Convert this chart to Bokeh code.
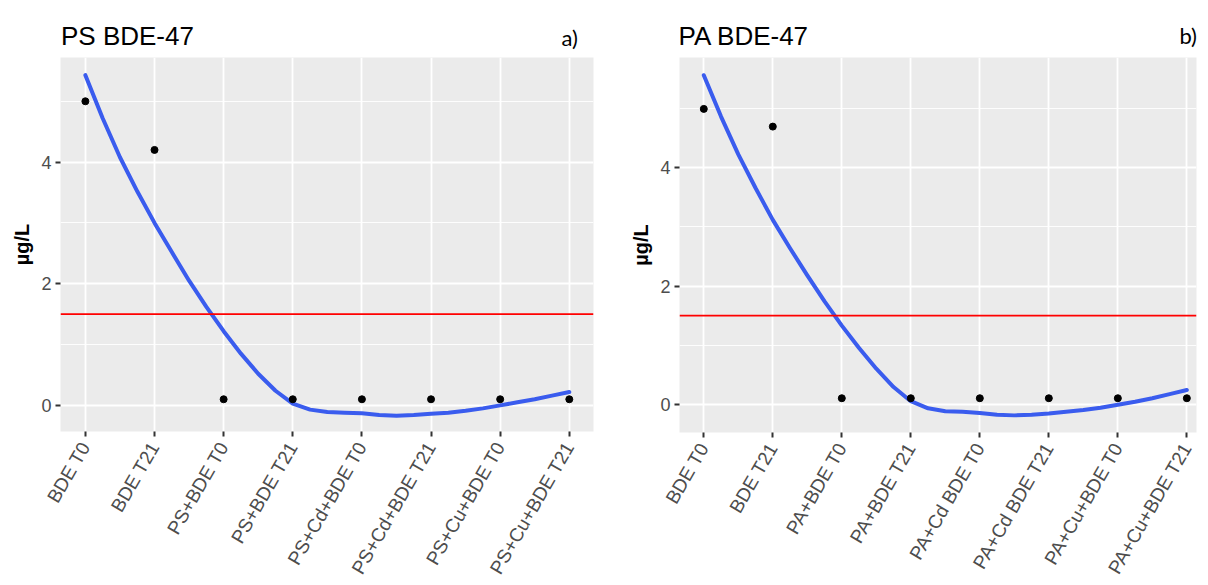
import math
from bokeh.plotting import figure
from bokeh.models import FixedTicker, Span, ColumnDataSource, Div
from bokeh.layouts import row, column
from bokeh.embed import file_html
from bokeh.resources import INLINE

# ---------------- data ----------------
ps_categories = ["BDE T0", "BDE T21", "PS+BDE T0", "PS+BDE T21",
                 "PS+Cd+BDE T0", "PS+Cd+BDE T21", "PS+Cu+BDE T0", "PS+Cu+BDE T21"]
ps_values = [5.0, 4.2, 0.1, 0.1, 0.1, 0.1, 0.1, 0.1]

pa_categories = ["BDE T0", "BDE T21", "PA+BDE T0", "PA+BDE T21",
                 "PA+Cd BDE T0", "PA+Cd BDE T21", "PA+Cu+BDE T0", "PA+Cu+BDE T21"]
pa_values = [5.0, 4.7, 0.1, 0.1, 0.1, 0.1, 0.1, 0.1]

# smooth (loess) curves, at category positions
smooth_x = [1.0, 1.25, 1.5, 1.75, 2.0, 2.25, 2.5, 2.75, 3.0, 3.25, 3.5, 3.75,
            4.0, 4.25, 4.5, 4.75, 5.0, 5.25, 5.5, 5.75, 6.0, 6.25, 6.5, 6.75,
            7.0, 7.25, 7.5, 7.75, 8.0]
ps_smooth = [5.43, 4.72, 4.08, 3.52, 3.0, 2.52, 2.05, 1.62, 1.22, 0.85, 0.52, 0.24,
             0.03, -0.07, -0.11, -0.12, -0.13, -0.16, -0.17, -0.16, -0.14, -0.12, -0.09, -0.05,
             0.0, 0.05, 0.1, 0.16, 0.22]
pa_smooth = [5.57, 4.87, 4.23, 3.66, 3.12, 2.64, 2.18, 1.74, 1.33, 0.95, 0.6, 0.29,
             0.05, -0.07, -0.12, -0.13, -0.15, -0.18, -0.19, -0.18, -0.16, -0.13, -0.1, -0.06,
             -0.01, 0.04, 0.1, 0.17, 0.24]

threshold = 1.5
y_ticks = [0, 2, 4]
y_minor = [1, 3, 5]

FONT = "Liberation Sans"
W = 604
HEADER_H = 57


def make_header(title, tag, title_left, tag_right, tag_top):
    html = (
        f'<div style="position:relative;width:{W}px;height:{HEADER_H}px;'
        f'margin:0;padding:0;overflow:hidden;">'
        f'<span style="position:absolute;left:{title_left}px;top:23px;'
        f"font-family:'{FONT}';font-size:26px;line-height:1;color:#000;"
        f'white-space:nowrap;">{title}</span>'
        f'<span style="position:absolute;right:{tag_right}px;top:{tag_top}px;'
        f"font-family:'Lato';font-size:22px;line-height:1;color:#000;"
        f'white-space:nowrap;">{tag}</span>'
        f'</div>'
    )
    return Div(text=html, width=W, height=HEADER_H, margin=0)


def make_panel(cats, vals, smooth, x_range, y_range, left_border, right_border):
    p = figure(width=W, height=585 - HEADER_H, x_range=x_range, y_range=y_range,
               output_backend="svg", toolbar_location=None,
               min_border_left=left_border, min_border_right=right_border,
               min_border_top=0, min_border_bottom=152,
               background_fill_color="#EBEBEB", border_fill_color="white",
               outline_line_color=None)

    positions = list(range(1, len(cats) + 1))
    xt = FixedTicker(ticks=positions, minor_ticks=[])
    yt = FixedTicker(ticks=y_ticks, minor_ticks=y_minor)
    p.xaxis.ticker = xt
    p.yaxis.ticker = yt
    p.xgrid.ticker = xt
    p.ygrid.ticker = yt
    p.xaxis.major_label_overrides = {i: c for i, c in zip(positions, cats)}
    p.xaxis.major_label_orientation = math.pi / 3

    for ax in (p.xaxis, p.yaxis):
        ax.axis_line_color = None
        ax.major_tick_in = 0
        ax.major_tick_out = 5
        ax.major_tick_line_color = "#333333"
        ax.major_tick_line_width = 2
        ax.minor_tick_line_color = None
        ax.major_label_text_font = FONT
        ax.major_label_text_color = "#4D4D4D"
    p.yaxis.major_label_text_font_size = "18px"
    p.yaxis.major_label_standoff = 4
    p.xaxis.major_label_text_font_size = "19px"
    p.xaxis.major_label_standoff = 7

    p.yaxis.axis_label = "µg/L"
    p.yaxis.axis_label_text_font = FONT
    p.yaxis.axis_label_text_font_size = "20px"
    p.yaxis.axis_label_text_font_style = "bold"
    p.yaxis.axis_label_text_color = "#000000"
    p.yaxis.axis_label_standoff = 5

    p.xgrid.grid_line_color = "white"
    p.xgrid.grid_line_width = 1.8
    p.ygrid.grid_line_color = "white"
    p.ygrid.grid_line_width = 1.8
    p.ygrid.minor_grid_line_color = "white"
    p.ygrid.minor_grid_line_width = 0.9

    p.add_layout(Span(location=threshold, dimension="width",
                      line_color="#FF0000", line_width=1.8))

    line_src = ColumnDataSource(dict(x=smooth_x, y=smooth))
    p.line("x", "y", source=line_src, line_color="#3A5CEE", line_width=4,
           line_join="round", line_cap="round")

    pt_src = ColumnDataSource(dict(x=positions, y=vals))
    p.scatter("x", "y", source=pt_src, size=7, color="black")
    return p


h1 = make_header("PS BDE-47", "a)", 61, 26, 27)
p1 = make_panel(ps_categories, ps_values, ps_smooth,
                (0.64, 8.35), (-0.43, 5.72), 60, 11)
h2 = make_header("PA BDE-47", "b)", 74.5, 11, 24.5)
p2 = make_panel(pa_categories, pa_values, pa_smooth,
                (0.648, 8.14), (-0.48, 5.87), 75, 12)

layout = row(column(h1, p1, spacing=0), column(h2, p2, spacing=0), spacing=0)
open("out.html", "w").write(file_html(layout, INLINE))
